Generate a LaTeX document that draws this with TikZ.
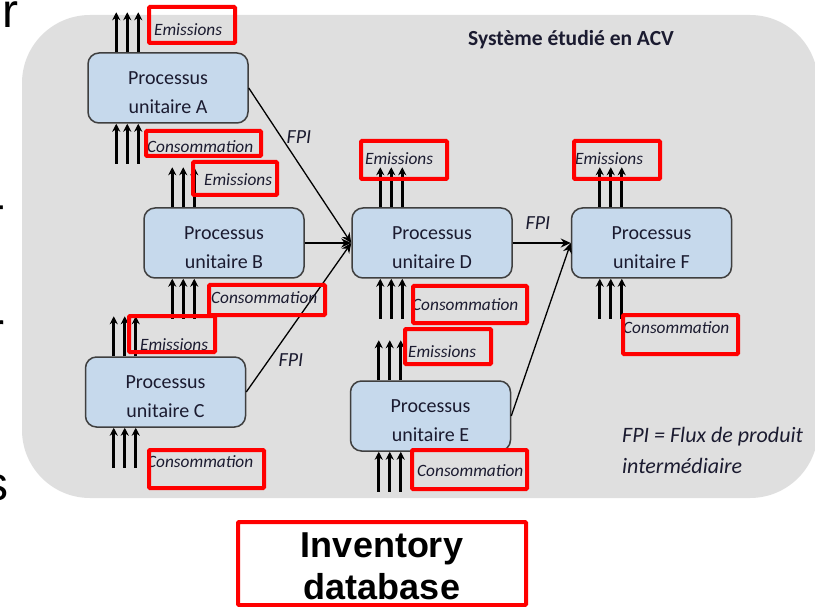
\documentclass[tikz,border=0pt]{standalone}
\usepackage{fontspec}
\setmainfont{Carlito}
\newfontfamily\arialfont{Liberation Sans}
\usetikzlibrary{arrows.meta}

\definecolor{bggray}{HTML}{DFDFDF}
\definecolor{boxblue}{HTML}{C6D9EC}
\definecolor{boxline}{HTML}{3F3F3F}
\definecolor{inktext}{HTML}{1B1B30}
\definecolor{markred}{HTML}{FF0000}

% a unit process: framed box plus its two-line caption, set slightly low
\newcommand\unitproc[3]{%
  \node[proc] (#1) at (#2) {};
  \node[proctext] (#1t) at ([yshift=-5pt]#1.center) {Processus\\unitaire #3};
}

\begin{document}
\begin{tikzpicture}[x=1pt,y=-1pt,
  proc/.style={draw=boxline, line width=1.5pt, fill=boxblue, rounded corners=11pt,
    minimum width=160pt, minimum height=70pt, inner sep=0pt},
  proctext/.style={align=center, text=inktext, font=\fontsize{20}{29}\selectfont, inner sep=0pt},
  redbox/.style={draw=markred, line width=4pt, rounded corners=1pt, inner sep=0pt},
  lbl/.style={font=\fontsize{17.3}{20}\selectfont\itshape, text=inktext, inner sep=0pt, anchor=west},
  fpi/.style={font=\fontsize{20}{24}\selectfont\itshape, text=inktext, inner sep=0pt},
  flow/.style={line width=3pt, -{Stealth[length=8pt,width=8pt]}},
  link/.style={line width=1.3pt, -{Stealth[length=10pt,width=9pt]}},
  frag/.style={font=\arialfont\fontsize{48}{48}\selectfont, inner sep=0pt, anchor=base west},
  invtxt/.style={font=\arialfont\bfseries\fontsize{36}{41}\selectfont, inner sep=0pt, anchor=base}
]
\useasboundingbox (0,0) rectangle (815,607);

% letters of the surrounding slide text, cut by the page edge
\node[frag] (f1) at (1.8,28) {r};
\node[frag] (f2) at (-11,221) {-};
\node[frag] (f3) at (-12,346) {r};
\node[frag] (f4) at (-15.6,500) {s};

% system boundary
\fill[bggray, rounded corners=68pt] (22,15) rectangle (818,498);
\node[font=\bfseries\fontsize{21.5}{26}\selectfont, text=inktext] (title) at (571,40) {Système étudié en ACV};

% unit processes
\unitproc{A}{168,88}{A}
\unitproc{B}{224,243}{B}
\unitproc{C}{165.5,392}{C}
\unitproc{D}{432,243}{D}
\unitproc{E}{430.5,416}{E}
\unitproc{F}{651.5,243}{F}

% emissions (up from the top) and consumption (up into the bottom)
\foreach \p in {A,B,C,D,E,F}{
  \foreach \dx in {29,40,51}{
    \draw[flow] ([xshift=\dx pt]\p.north west) -- ++(0,-40);
    \draw[flow] ([xshift=\dx pt, yshift=-40pt]\p.south west) -- ([xshift=\dx pt]\p.south west);
  }
}

% intermediate product flows
\draw[link] (A.east) -- (D.west);
\draw[link] (B.east) -- (D.west);
\draw[link] (C.east) -- (D.west);
\draw[link] (D.east) -- (F.west);
\draw[link] (E.east) -- (F.west);
\node[fpi] (fpiA) at (299,137) {FPI};
\node[fpi] (fpiC) at (291,360) {FPI};
\node[fpi] (fpiD) at (538,223) {FPI};

% flow labels
\node[lbl] (tEA) at (154,30)  {Emissions};
\node[lbl] (tCA) at (147,147) {Consommation};
\node[lbl] (tEB) at (204,180) {Emissions};
\node[lbl] (tCB) at (211,298) {Consommation};
\node[lbl] (tEC) at (140,345) {Emissions};
\node[lbl] (tCC) at (147,462) {Consommation};
\node[lbl] (tED) at (365,159) {Emissions};
\node[lbl] (tCD) at (412,305) {Consommation};
\node[lbl] (tEE) at (408,352) {Emissions};
\node[lbl] (tCE) at (417,471) {Consommation};
\node[lbl] (tEF) at (575,159) {Emissions};
\node[lbl] (tCF) at (623,328) {Consommation};

% red frames around the inventory flows
\node[redbox, minimum width=86pt,  minimum height=36pt] (rEA) at (192,25) {};
\node[redbox, minimum width=115pt, minimum height=25pt] (rCA) at (203.5,143.5) {};
\node[redbox, minimum width=84pt,  minimum height=33pt] (rEB) at (235,178.5) {};
\node[redbox, minimum width=116pt, minimum height=30pt] (rCB) at (267,300) {};
\node[redbox, minimum width=86pt,  minimum height=36pt] (rEC) at (172,334) {};
\node[redbox, minimum width=115pt, minimum height=38pt] (rCC) at (206.5,469) {};
\node[redbox, minimum width=86pt,  minimum height=38pt] (rED) at (404,160) {};
\node[redbox, minimum width=114pt, minimum height=37pt] (rCD) at (470,304.5) {};
\node[redbox, minimum width=86pt,  minimum height=35pt] (rEE) at (448,346.5) {};
\node[redbox, minimum width=115pt, minimum height=39pt] (rCE) at (469.5,469.5) {};
\node[redbox, minimum width=86pt,  minimum height=38pt] (rEF) at (617,160) {};
\node[redbox, minimum width=115pt, minimum height=39pt] (rCF) at (680.5,334.5) {};

% legend
\node[fpi, anchor=west, font=\fontsize{22}{26}\selectfont\itshape] (leg1) at (622,437) {FPI = Flux de produit};
\node[fpi, anchor=west, font=\fontsize{22}{26}\selectfont\itshape] (leg2) at (622,466) {intermédiaire};

% inventory database
\node[redbox, minimum width=288pt, minimum height=83pt] (inv) at (382,563.5) {};
\node[invtxt] (inv1) at (382,557) {Inventory};
\node[invtxt] (inv2) at (382,599) {database};
\end{tikzpicture}
\end{document}
